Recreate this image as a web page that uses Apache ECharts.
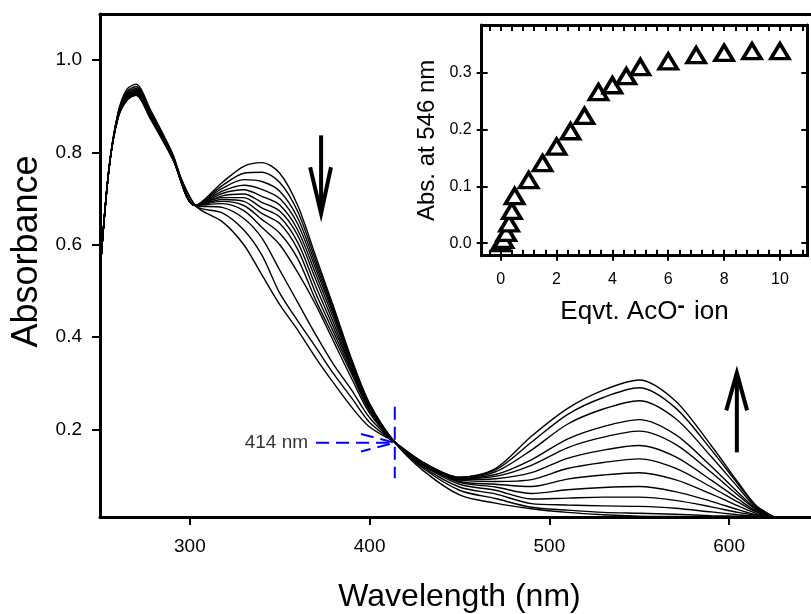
<!DOCTYPE html>
<html>
<head>
<meta charset="utf-8">
<script src="https://cdn.jsdelivr.net/npm/echarts@6/dist/echarts.min.js"></script>
<style>
  html, body { margin: 0; padding: 0; background: #fff; }
  #chart { width: 811px; height: 614px; }
</style>
</head>
<body>
<div id="chart"></div>
<script>
// Wavelength grid (nm) shared by every absorption spectrum
const wavelengths = [250, 255, 260, 265, 270, 278, 290, 303, 318, 330, 340, 350, 360, 370, 380, 390, 400, 414, 430, 450, 470, 490, 510, 530, 550, 570, 590, 605, 615, 625];

// Spectra recorded along the titration, from 0 eq. (spectrum00) to the last addition (spectrum12)
const spectrum00 = [0.54, 0.765, 0.886, 0.937, 0.948, 0.893, 0.801, 0.685, 0.735, 0.770, 0.778, 0.755, 0.685, 0.575, 0.465, 0.352, 0.256, 0.172, 0.110, 0.058, 0.040, 0.028, 0.020, 0.015, 0.012, 0.011, 0.010, 0.010, 0.010, 0.010];
const spectrum01 = [0.54, 0.765, 0.884, 0.932, 0.943, 0.889, 0.799, 0.685, 0.728, 0.755, 0.757, 0.735, 0.672, 0.566, 0.459, 0.348, 0.254, 0.172, 0.115, 0.068, 0.050, 0.031, 0.025, 0.020, 0.018, 0.016, 0.013, 0.012, 0.011, 0.010];
const spectrum02 = [0.54, 0.765, 0.882, 0.928, 0.939, 0.885, 0.797, 0.685, 0.722, 0.741, 0.737, 0.716, 0.658, 0.557, 0.453, 0.345, 0.252, 0.172, 0.118, 0.075, 0.060, 0.039, 0.036, 0.034, 0.033, 0.029, 0.021, 0.015, 0.012, 0.010];
const spectrum03 = [0.54, 0.765, 0.880, 0.925, 0.936, 0.883, 0.795, 0.685, 0.716, 0.729, 0.720, 0.700, 0.645, 0.548, 0.448, 0.342, 0.250, 0.172, 0.121, 0.081, 0.068, 0.049, 0.051, 0.053, 0.053, 0.046, 0.032, 0.020, 0.014, 0.010];
const spectrum04 = [0.54, 0.765, 0.879, 0.923, 0.934, 0.881, 0.794, 0.685, 0.711, 0.719, 0.705, 0.686, 0.632, 0.537, 0.440, 0.338, 0.248, 0.172, 0.123, 0.085, 0.075, 0.061, 0.069, 0.074, 0.076, 0.065, 0.044, 0.026, 0.015, 0.010];
const spectrum05 = [0.54, 0.765, 0.878, 0.921, 0.932, 0.880, 0.793, 0.685, 0.706, 0.710, 0.692, 0.673, 0.620, 0.525, 0.430, 0.334, 0.246, 0.172, 0.124, 0.087, 0.081, 0.076, 0.092, 0.101, 0.106, 0.091, 0.060, 0.034, 0.018, 0.010];
const spectrum06 = [0.54, 0.765, 0.877, 0.919, 0.930, 0.878, 0.792, 0.685, 0.702, 0.702, 0.680, 0.660, 0.605, 0.510, 0.420, 0.330, 0.244, 0.172, 0.125, 0.090, 0.087, 0.091, 0.115, 0.128, 0.136, 0.116, 0.075, 0.042, 0.021, 0.010];
const spectrum07 = [0.54, 0.765, 0.877, 0.918, 0.929, 0.877, 0.792, 0.685, 0.698, 0.694, 0.668, 0.646, 0.590, 0.495, 0.410, 0.325, 0.242, 0.172, 0.126, 0.091, 0.093, 0.106, 0.137, 0.155, 0.165, 0.141, 0.090, 0.049, 0.023, 0.010];
const spectrum08 = [0.54, 0.765, 0.876, 0.917, 0.928, 0.877, 0.791, 0.685, 0.694, 0.685, 0.655, 0.625, 0.570, 0.480, 0.400, 0.320, 0.240, 0.172, 0.127, 0.093, 0.098, 0.122, 0.160, 0.183, 0.196, 0.168, 0.107, 0.057, 0.026, 0.010];
const spectrum09 = [0.54, 0.765, 0.876, 0.916, 0.927, 0.876, 0.791, 0.685, 0.689, 0.674, 0.638, 0.600, 0.540, 0.470, 0.390, 0.310, 0.235, 0.172, 0.127, 0.094, 0.102, 0.134, 0.179, 0.206, 0.221, 0.189, 0.120, 0.063, 0.028, 0.010];
const spectrum10 = [0.54, 0.765, 0.875, 0.915, 0.926, 0.875, 0.790, 0.685, 0.681, 0.657, 0.615, 0.545, 0.475, 0.405, 0.340, 0.285, 0.225, 0.172, 0.127, 0.095, 0.108, 0.155, 0.211, 0.244, 0.262, 0.224, 0.141, 0.074, 0.031, 0.010];
const spectrum11 = [0.54, 0.765, 0.875, 0.914, 0.925, 0.874, 0.790, 0.685, 0.669, 0.632, 0.578, 0.495, 0.435, 0.378, 0.320, 0.268, 0.215, 0.172, 0.128, 0.096, 0.112, 0.172, 0.232, 0.269, 0.290, 0.247, 0.156, 0.081, 0.034, 0.010];
const spectrum12 = [0.54, 0.765, 0.874, 0.913, 0.924, 0.873, 0.789, 0.685, 0.650, 0.600, 0.535, 0.470, 0.415, 0.355, 0.300, 0.248, 0.205, 0.172, 0.128, 0.096, 0.115, 0.185, 0.245, 0.285, 0.307, 0.262, 0.165, 0.085, 0.035, 0.010];

const spectra = [spectrum00, spectrum01, spectrum02, spectrum03, spectrum04, spectrum05, spectrum06,
                 spectrum07, spectrum08, spectrum09, spectrum10, spectrum11, spectrum12];

// Inset: absorbance at 546 nm versus equivalents of acetate added
const equivalents = [0, 0.1, 0.2, 0.3, 0.4, 0.5, 1, 1.5, 2, 2.5, 3, 3.5, 4, 4.5, 5, 6, 7, 8, 9, 10];
const abs546 = [0.000, 0.006, 0.018, 0.035, 0.057, 0.083, 0.111, 0.141, 0.170, 0.197, 0.224, 0.266, 0.278, 0.294, 0.310, 0.320, 0.331, 0.335, 0.338, 0.338];

// Tick values
const mainXTicks = [300, 400, 500, 600];
const mainYTicks = [0.2, 0.4, 0.6, 0.8, 1.0];
const insetXTicks = [0, 2, 4, 6, 8, 10];
const insetYTicks = [0.0, 0.1, 0.2, 0.3];
const insetXMinorTicks = [];
for (let k = -1; k <= 27; k++) insetXMinorTicks.push(+(k * 0.4).toFixed(1));

// Annotation strokes in data units (wavelength, absorbance)
const arrowDownShaft = [[373, 0.837], [373, 0.668]];
const arrowDownHead = [[366.9, 0.768], [373, 0.668], [378.5, 0.768]];
const arrowUpShaft = [[604.3, 0.150], [604.3, 0.322]];
const arrowUpHead = [[598.4, 0.241], [604.3, 0.322], [610.0, 0.241]];
const isosbesticVertical = [[414, 0.249], [414, 0.094]];
const isosbesticPointer = [[370.2, 0.171], [414, 0.171]];
const isosbesticHead = [[395.2, 0.190], [414, 0.171], [395.2, 0.152]];
const isosbesticLabel = [370.2, 0.171];

const FONT = '"Liberation Sans", Arial, sans-serif';
const BLACK = '#000';

const chart = echarts.init(document.getElementById('chart'), null, { renderer: 'canvas' });

const spectrumSeries = spectra.map((s, idx) => ({
  type: 'line',
  name: 'spectrum' + idx,
  xAxisIndex: 0,
  yAxisIndex: 0,
  data: wavelengths.map((w, i) => [w, s[i]]),
  showSymbol: false,
  smooth: 0.3,
  lineStyle: { color: BLACK, width: 1.4 },
  silent: true,
  z: 3
}));

const insetRect = { left: 481.7, top: 25, width: 325.6, height: 230.7, containLabel: false, outerBoundsMode: 'none' };

const option = {
  animation: false,
  backgroundColor: '#fff',
  textStyle: { fontFamily: FONT, color: BLACK },
  grid: [
    { left: 100, top: 14, width: 719, height: 503, containLabel: false, outerBoundsMode: 'none' },
    Object.assign({}, insetRect),
    Object.assign({}, insetRect)
  ],
  xAxis: [
    { // main wavelength axis
      gridIndex: 0, type: 'value', min: 250, max: 650, position: 'bottom',
      axisLine: { show: true, onZero: false, lineStyle: { color: BLACK, width: 3 } },
      axisTick: { show: true, customValues: mainXTicks, length: 8, lineStyle: { color: BLACK, width: 2 } },
      axisLabel: { customValues: mainXTicks, fontSize: 19, color: BLACK, margin: 20, fontFamily: FONT },
      splitLine: { show: false },
      name: 'Wavelength (nm)', nameLocation: 'middle', nameGap: 64,
      nameTextStyle: { fontSize: 32, color: BLACK, fontFamily: FONT }
    },
    { // top frame of the main plot
      gridIndex: 0, type: 'value', min: 250, max: 650, position: 'top',
      axisLine: { show: true, onZero: false, lineStyle: { color: BLACK, width: 3 } },
      axisTick: { show: false }, axisLabel: { show: false }, splitLine: { show: false }
    },
    { // inset equivalents axis
      gridIndex: 1, type: 'value', min: -0.68, max: 10.98, position: 'bottom',
      axisLine: { show: true, onZero: false, lineStyle: { color: BLACK, width: 3 } },
      axisTick: { show: true, customValues: insetXTicks, length: 5, lineStyle: { color: BLACK, width: 2 } },
      axisLabel: { customValues: insetXTicks, fontSize: 16, color: BLACK, margin: 16, fontFamily: FONT },
      splitLine: { show: false },
      name: 'Eqvt. AcO{sup|-} ion', nameLocation: 'middle', nameGap: 39,
      nameTextStyle: {
        fontSize: 26, color: BLACK, fontFamily: FONT,
        rich: { sup: { fontSize: 22, fontWeight: 'bold', color: BLACK, fontFamily: FONT, padding: [0, 2, 12, 0] } }
      }
    },
    { // inset top frame with inward minor ticks
      gridIndex: 1, type: 'value', min: -0.68, max: 10.98, position: 'top',
      axisLine: { show: true, onZero: false, lineStyle: { color: BLACK, width: 3 } },
      axisTick: { show: true, inside: true, customValues: insetXMinorTicks, length: 6, lineStyle: { color: BLACK, width: 2 } },
      axisLabel: { show: false }, splitLine: { show: false }
    },
    { // inward minor ticks along the inset bottom
      gridIndex: 2, type: 'value', min: -0.68, max: 10.98, position: 'bottom',
      axisLine: { show: false, onZero: false },
      axisTick: { show: true, inside: true, customValues: insetXMinorTicks, length: 6, lineStyle: { color: BLACK, width: 2 } },
      axisLabel: { show: false }, splitLine: { show: false }
    }
  ],
  yAxis: [
    { // main absorbance axis
      gridIndex: 0, type: 'value', min: 0.01, max: 1.1, position: 'left',
      axisLine: { show: true, onZero: false, lineStyle: { color: BLACK, width: 3 } },
      axisTick: { show: true, customValues: mainYTicks, length: 8, lineStyle: { color: BLACK, width: 2 } },
      axisLabel: { customValues: mainYTicks, fontSize: 19, color: BLACK, margin: 18, fontFamily: FONT,
                   formatter: v => v.toFixed(1) },
      splitLine: { show: false },
      name: 'Absorbance', nameLocation: 'middle', nameGap: 52,
      nameTextStyle: { fontSize: 36, color: BLACK, fontFamily: FONT, padding: [0, 0, 0, 28] }
    },
    { // inset absorbance axis
      gridIndex: 1, type: 'value', min: -0.022, max: 0.384, position: 'left',
      axisLine: { show: true, onZero: false, lineStyle: { color: BLACK, width: 3 } },
      axisTick: { show: true, customValues: insetYTicks, length: 5, lineStyle: { color: BLACK, width: 2 } },
      axisLabel: { customValues: insetYTicks, fontSize: 16, color: BLACK, margin: 10, fontFamily: FONT,
                   formatter: v => v.toFixed(1) },
      splitLine: { show: false },
      name: 'Abs. at 546 nm', nameLocation: 'middle', nameGap: 42,
      nameTextStyle: { fontSize: 24, color: BLACK, fontFamily: FONT }
    },
    { // inset right frame
      gridIndex: 1, type: 'value', min: -0.022, max: 0.384, position: 'right',
      axisLine: { show: true, onZero: false, lineStyle: { color: BLACK, width: 3 } },
      axisTick: { show: true, inside: true, customValues: insetYTicks, length: 6, lineStyle: { color: BLACK, width: 2 } },
      axisLabel: { show: false }, splitLine: { show: false }
    },
    { // inward ticks along the inset left side
      gridIndex: 2, type: 'value', min: -0.022, max: 0.384, position: 'left',
      axisLine: { show: false, onZero: false },
      axisTick: { show: true, inside: true, customValues: insetYTicks, length: 6, lineStyle: { color: BLACK, width: 2 } },
      axisLabel: { show: false }, splitLine: { show: false }
    }
  ],
  series: [
    ...spectrumSeries,
    { // direction-of-change arrows
      type: 'lines', coordinateSystem: 'cartesian2d', xAxisIndex: 0, yAxisIndex: 0,
      polyline: true, silent: true, z: 6,
      lineStyle: { color: BLACK, width: 4, opacity: 1, curveness: 0, cap: 'butt', join: 'miter' },
      data: [{ coords: arrowDownShaft }, { coords: arrowDownHead }, { coords: arrowUpShaft }, { coords: arrowUpHead }]
    },
    { // isosbestic point marker
      type: 'lines', coordinateSystem: 'cartesian2d', xAxisIndex: 0, yAxisIndex: 0,
      polyline: true, silent: true, z: 7,
      lineStyle: { color: '#0000ff', width: 2, opacity: 1, curveness: 0, type: [13, 7] },
      data: [{ coords: isosbesticVertical }, { coords: isosbesticPointer }, { coords: isosbesticHead }]
    },
    {
      type: 'scatter', xAxisIndex: 0, yAxisIndex: 0, silent: true, z: 7,
      data: [isosbesticLabel], symbolSize: 0,
      label: { show: true, position: 'left', distance: 8, formatter: '414 nm',
               fontSize: 19, color: BLACK, fontFamily: FONT }
    },
    { // inset titration curve
      type: 'scatter', xAxisIndex: 2, yAxisIndex: 1, silent: true, z: 8,
      data: equivalents.map((e, i) => [e, abs546[i]]),
      symbol: 'triangle', symbolSize: [18, 15],
      itemStyle: { color: '#fff', borderColor: BLACK, borderWidth: 3.6, opacity: 1 }
    }
  ]
};

chart.setOption(option);
</script>
</body>
</html>
